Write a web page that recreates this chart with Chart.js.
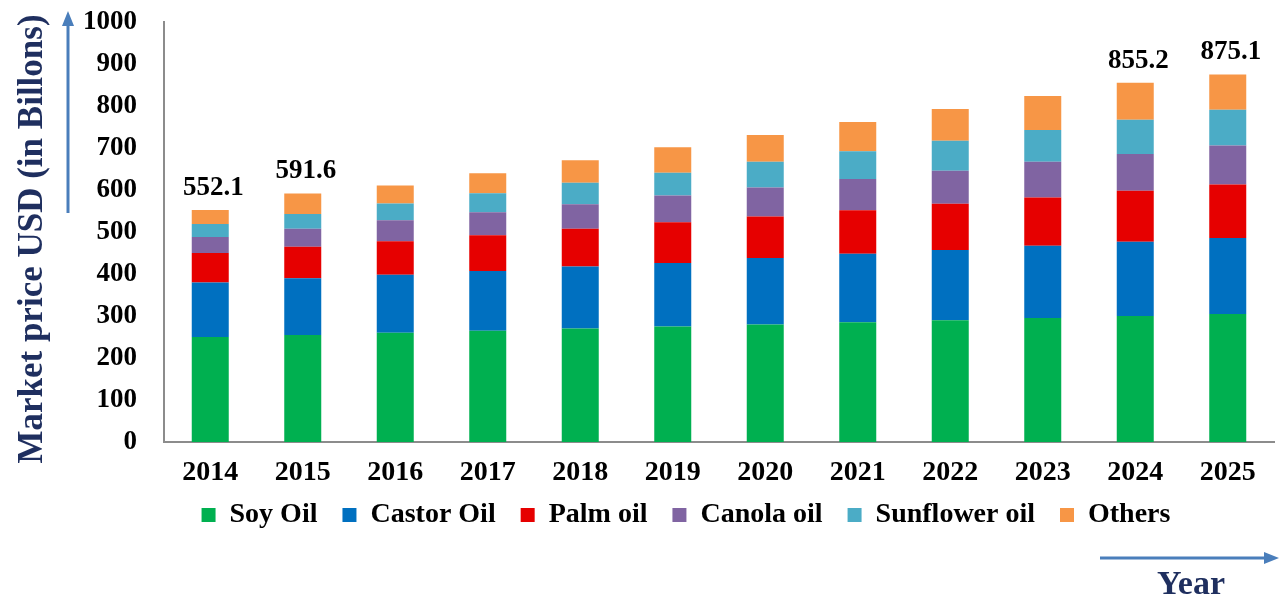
<!DOCTYPE html>
<html>
<head>
<meta charset="utf-8">
<title>Vegetable oil market</title>
<script src="https://cdn.jsdelivr.net/npm/chart.js@4.4.1/dist/chart.umd.min.js"></script>
<style>
  html, body { margin: 0; padding: 0; background: #fff; }
  #wrap { width: 1282px; height: 601px; }
</style>
</head>
<body>
<div id="wrap"><canvas id="oilChart"></canvas></div>
<script>
const years = ['2014', '2015', '2016', '2017', '2018', '2019', '2020', '2021', '2022', '2023', '2024', '2025'];

// market size per oil, USD billions
const soyOil       = [250, 255, 260, 265, 270, 275, 280, 285, 290, 295, 300, 305];
const castorOil    = [130, 135, 138, 142, 148, 151, 158, 163, 167, 172, 177, 181];
const palmOil      = [70, 75, 80, 85, 90, 97, 99, 104, 110, 115, 121, 127];
const canolaOil    = [38, 43, 50, 55, 58, 64, 69, 74, 79, 85, 88, 93];
const sunflowerOil = [31, 35, 40, 45, 51, 54, 61, 66, 71, 76, 81, 85];
const others       = [33.1, 48.6, 43, 48, 54, 61, 64, 70, 76, 81, 88.2, 84.1];

// totals printed above some of the columns
const totalLabels = ['552.1', '591.6', '', '', '', '', '', '', '', '', '855.2', '875.1'];

const yMin = 0, yMax = 1000, yStep = 100;

const serif = '"Liberation Serif", "Times New Roman", serif';
Chart.defaults.font.family = serif;
Chart.defaults.color = '#000';

// nudge the legend: a bit right of canvas centre and closer to the year labels
const legendShift = {
  id: 'legendShift',
  afterLayout(chart) {
    const lg = chart.legend;
    lg.left += 49; lg.right += 49;
    lg.top -= 14; lg.bottom -= 14;
  }
};

// column totals + arrows and axis captions
const extras = {
  id: 'extras',
  afterDatasetsDraw(chart) {
    const ctx = chart.ctx;
    const y = chart.scales.y;
    const last = chart.getDatasetMeta(chart.data.datasets.length - 1);
    ctx.save();
    ctx.font = 'bold 27px ' + serif;
    ctx.fillStyle = '#000';
    ctx.textAlign = 'center';
    ctx.textBaseline = 'middle';
    totalLabels.forEach((txt, i) => {
      if (!txt) return;
      const total = chart.data.datasets.reduce((s, d) => s + d.data[i], 0);
      ctx.fillText(txt, last.data[i].x + 3, y.getPixelForValue(total) - 22);
    });
    ctx.restore();
  },
  afterDraw(chart) {
    const ctx = chart.ctx;
    ctx.save();
    ctx.strokeStyle = '#4a7ebb';
    ctx.fillStyle = '#4a7ebb';
    ctx.lineWidth = 3;

    // vertical arrow beside the y caption
    ctx.beginPath();
    ctx.moveTo(68, 213);
    ctx.lineTo(68, 24);
    ctx.stroke();
    ctx.beginPath();
    ctx.moveTo(68, 11);
    ctx.lineTo(62, 26);
    ctx.lineTo(74, 26);
    ctx.closePath();
    ctx.fill();

    // horizontal arrow above "Year"
    ctx.beginPath();
    ctx.moveTo(1100, 558);
    ctx.lineTo(1266, 558);
    ctx.stroke();
    ctx.beginPath();
    ctx.moveTo(1279, 558);
    ctx.lineTo(1264, 552);
    ctx.lineTo(1264, 564);
    ctx.closePath();
    ctx.fill();

    ctx.fillStyle = '#1f2f5f';
    ctx.font = 'bold 34px ' + serif;
    ctx.textAlign = 'center';
    ctx.textBaseline = 'middle';
    ctx.fillText('Year', 1191, 585);

    ctx.translate(33, 239);
    ctx.rotate(-Math.PI / 2);
    ctx.font = 'bold 35px ' + serif;
    ctx.fillText('Market price USD (in Billons)', 0, 0);
    ctx.restore();
  }
};

const ctx = document.getElementById('oilChart').getContext('2d');
new Chart(ctx, {
  type: 'bar',
  data: {
    labels: years,
    datasets: [
      { label: 'Soy Oil', data: soyOil, backgroundColor: '#00b050' },
      { label: 'Castor Oil', data: castorOil, backgroundColor: '#0070c0' },
      { label: 'Palm oil', data: palmOil, backgroundColor: '#e60000' },
      { label: 'Canola oil', data: canolaOil, backgroundColor: '#8064a2' },
      { label: 'Sunflower oil', data: sunflowerOil, backgroundColor: '#4bacc6' },
      { label: 'Others', data: others, backgroundColor: '#f79646' }
    ]
  },
  options: {
    responsive: true,
    maintainAspectRatio: false,
    animation: false,
    datasets: {
      bar: { borderWidth: 0, categoryPercentage: 1, barPercentage: 0.4 }
    },
    layout: { padding: { top: 22, right: 8, bottom: 48, left: 0 } },
    scales: {
      x: {
        stacked: true,
        grid: { display: false },
        border: { display: true, color: '#8c8c8c', width: 2 },
        ticks: { padding: 6, font: { size: 28, weight: 'bold' }, color: '#000' },
        afterFit(scale) { scale.height = 48; }
      },
      y: {
        stacked: true,
        min: yMin,
        max: yMax,
        grid: { display: false },
        border: { display: true, color: '#8c8c8c', width: 2 },
        ticks: {
          stepSize: yStep,
          padding: 19,
          font: { size: 27, weight: 'bold' },
          color: '#000',
          callback: v => String(v)
        },
        afterFit(scale) {
          scale.width = 164;
          // tick padding is horizontal only here, keep it out of the top/bottom reserve
          scale.paddingTop = 14;
          scale.paddingBottom = 14;
        }
      }
    },
    plugins: {
      legend: {
        position: 'bottom',
        labels: {
          boxWidth: 14,
          boxHeight: 14,
          padding: 25,
          color: '#000',
          font: { size: 28, weight: 'bold' }
        }
      },
      tooltip: { enabled: false }
    }
  },
  plugins: [legendShift, extras]
});
</script>
</body>
</html>
